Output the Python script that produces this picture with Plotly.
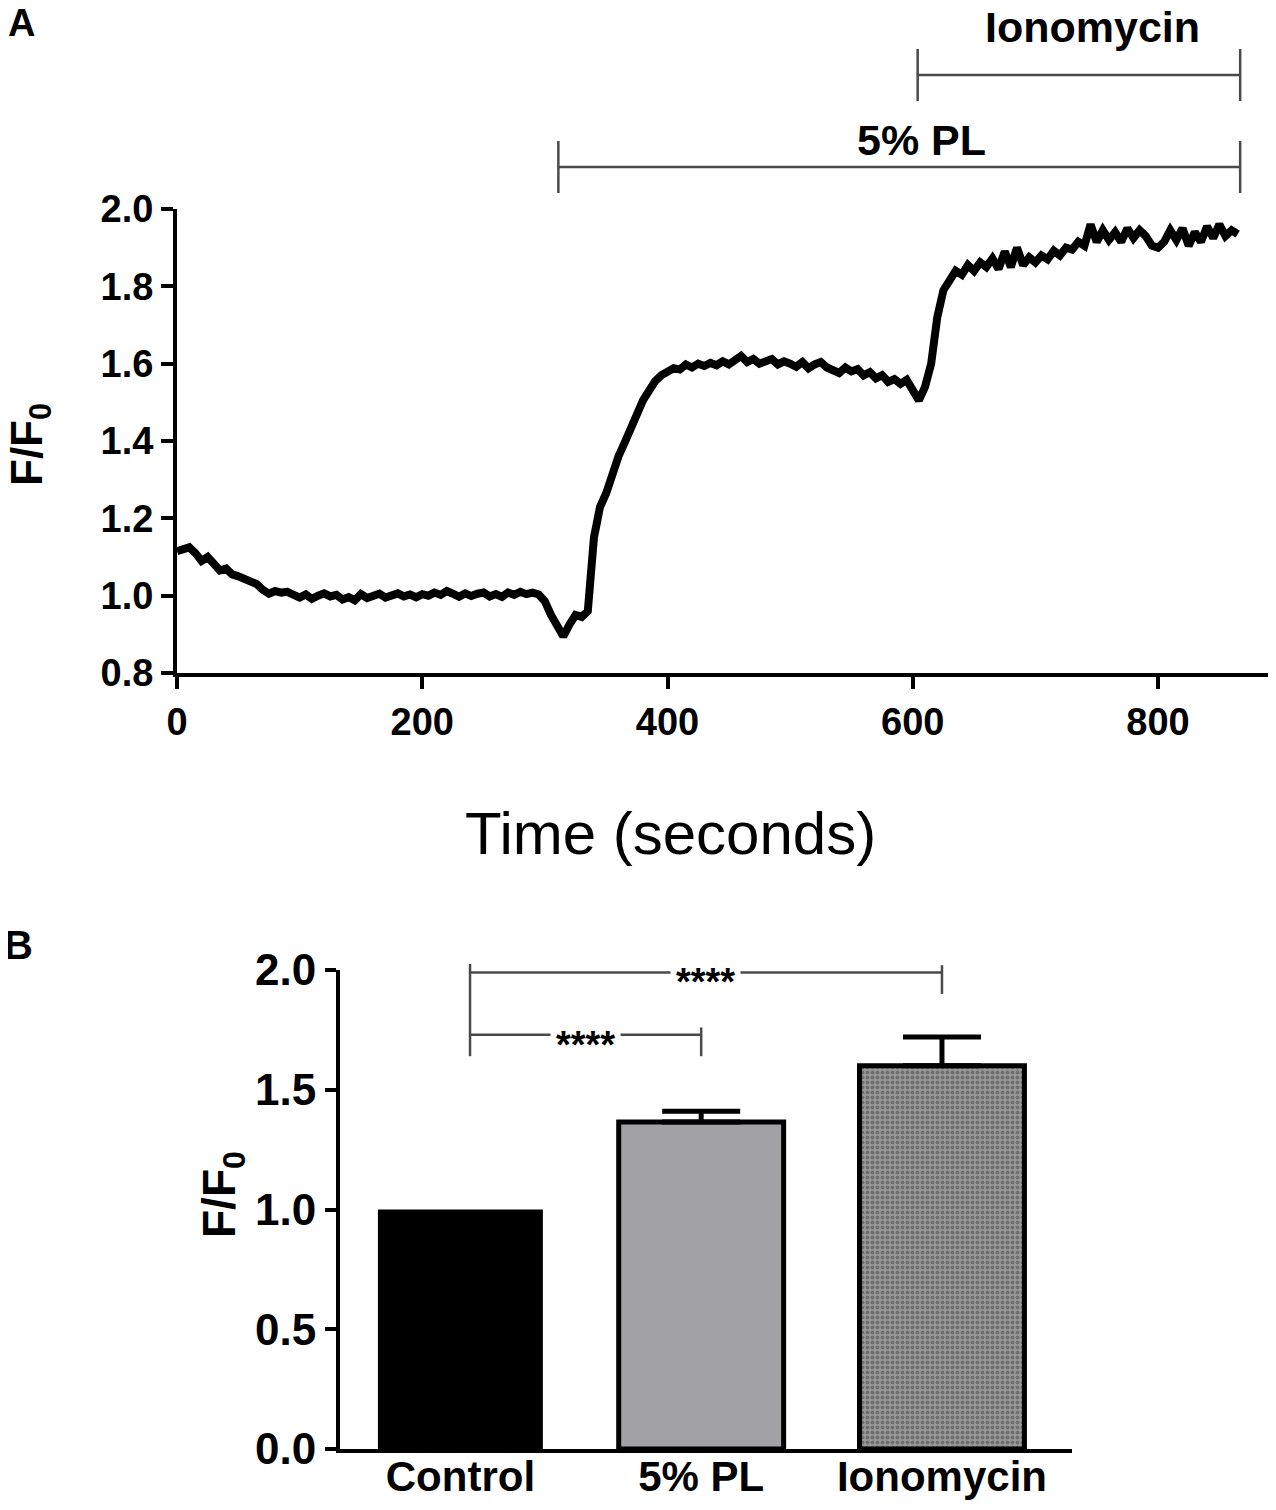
import plotly.graph_objs

# ---- panel A: calcium trace (F/F0 vs time, sampled every 5 s) ----
time_s = list(range(0, 870, 5))
ratio = [
    1.115, 1.120, 1.125, 1.110, 1.090, 1.100, 1.080, 1.065, 1.070, 1.055,
    1.050, 1.045, 1.035, 1.030, 1.015, 1.005, 1.012, 1.008, 1.010, 1.000,
    0.995, 1.003, 0.992, 1.000, 1.006, 0.998, 1.002, 0.990, 0.996, 0.988,
    1.004, 0.994, 0.999, 1.005, 0.995, 1.001, 1.006, 0.998, 1.003, 0.996,
    1.004, 1.000, 1.008, 1.002, 1.012, 1.005, 0.997, 1.006, 0.999, 1.005,
    1.008, 0.998, 1.004, 0.997, 1.008, 1.002, 1.010, 1.004, 1.008, 1.003,
    0.985, 0.950, 0.920, 0.895, 0.925, 0.950, 0.945, 0.960, 1.150, 1.230,
    1.265, 1.320, 1.360, 1.395, 1.430, 1.475, 1.505, 1.530, 1.555, 1.570,
    1.580, 1.588, 1.585, 1.598, 1.590, 1.600, 1.594, 1.602, 1.596, 1.606,
    1.598, 1.610, 1.620, 1.604, 1.612, 1.600, 1.608, 1.612, 1.598, 1.606,
    1.600, 1.592, 1.604, 1.588, 1.598, 1.604, 1.590, 1.584, 1.576, 1.590,
    1.580, 1.586, 1.570, 1.578, 1.562, 1.570, 1.553, 1.560, 1.548, 1.558,
    1.530, 1.505, 1.540, 1.600, 1.720, 1.790, 1.815, 1.840, 1.830, 1.855,
    1.840, 1.862, 1.850, 1.872, 1.845, 1.890, 1.850, 1.900, 1.855, 1.875,
    1.862, 1.880, 1.870, 1.892, 1.880, 1.900, 1.895, 1.915, 1.905, 1.960,
    1.915, 1.945, 1.920, 1.940, 1.915, 1.950, 1.925, 1.945, 1.930, 1.905,
    1.900, 1.915, 1.945, 1.920, 1.950, 1.905, 1.940, 1.915, 1.955, 1.925,
    1.960, 1.930, 1.945, 1.935,
]
x_ticks_a = [0, 200, 400, 600, 800]
y_ticks_a = [0.8, 1.0, 1.2, 1.4, 1.6, 1.8, 2.0]
# treatment periods (start, end, label)
treatments = [(311, 867, "5% PL"), (604, 867, "Ionomycin")]

# ---- panel B: mean F/F0 per condition ----
conditions = ["Control", "5% PL", "Ionomycin"]
means = [1.0, 1.365, 1.60]
sem = [0.0, 0.045, 0.12]
y_ticks_b = [0.0, 0.5, 1.0, 1.5, 2.0]
# comparisons (group a, group b, bracket height)
comparisons = [(0, 1, 1.73, "****"), (0, 2, 1.99, "****")]

# page has an 8 px body margin, so the figure is drawn a little smaller
OFF = 8
W, H = 1276 - 2 * OFF, 1510 - 2 * OFF
FONT = "Liberation Sans, Arial, sans-serif"


def px(x):
    return min(1.0, max(0.0, (x - OFF) / W))


def py(y):
    return min(1.0, max(0.0, 1 - (y - OFF) / H))


xr_a, yr_a = [0, 889.7], [0.8, 2.0]
xd_a, yd_a = [px(177), px(1268)], [py(673), py(209)]
xr_b, yr_b = [-0.5, 2.54], [0, 2.0]
xd_b, yd_b = [px(340), px(1072)], [py(1449), py(970)]


def to_paper(v, rng, dom):
    return dom[0] + (v - rng[0]) / (rng[1] - rng[0]) * (dom[1] - dom[0])


def line(x0, y0, x1, y1, color="#4a4a4a", width=2.5):
    return dict(type="line", xref="paper", yref="paper", x0=x0, y0=y0, x1=x1, y1=y1,
                line=dict(color=color, width=width))


def text(x, y, s, size, bold=True, **kw):
    font = dict(family=FONT, size=size, color="black")
    if bold:
        font["weight"] = "bold"
    return dict(x=x, y=y, text=s, xref="paper", yref="paper", showarrow=False,
                xanchor="center", yanchor="middle", font=font, **kw)


fig = plotly.graph_objs.Figure()
fig.add_trace(
    plotly.graph_objs.Scatter(
        x=time_s, y=ratio, mode="lines", line=dict(color="black", width=8),
        xaxis="x", yaxis="y", showlegend=False,
    )
)
fig.add_trace(
    plotly.graph_objs.Bar(
        x=[0, 1, 2], y=means, width=0.685, xaxis="x2", yaxis="y2", showlegend=False,
        marker=dict(
            color=["black", "#a2a2a6", "#9a9a9a"],
            line=dict(color="black", width=[0, 5, 5]),
            pattern=dict(shape=["", "", "."], size=5, solidity=0.5,
                         fgcolor="#2a2a2a", fillmode="overlay"),
        ),
    )
)
fig.add_trace(
    plotly.graph_objs.Scatter(
        x=[1, 2], y=means[1:], mode="markers", marker=dict(size=1, color="rgba(0,0,0,0)"),
        xaxis="x2", yaxis="y2", showlegend=False,
        error_y=dict(type="data", symmetric=False, array=sem[1:], arrayminus=[0, 0],
                     color="black", thickness=5, width=39),
    )
)

axis_style = dict(showline=True, linecolor="black", linewidth=4, showgrid=False,
                  zeroline=False, ticks="outside", tickcolor="black", tickwidth=4,
                  ticklen=12, automargin=False)

fig.update_layout(
    width=W, height=H, margin=dict(l=0, r=0, t=0, b=0),
    paper_bgcolor="white", plot_bgcolor="white",
    xaxis=dict(axis_style, domain=xd_a, range=xr_a, anchor="y", tickvals=x_ticks_a,
               tickfont=dict(family=FONT, size=38, color="black", weight="bold")),
    yaxis=dict(axis_style, domain=yd_a, range=yr_a, anchor="x", tickvals=y_ticks_a,
               tickformat=".1f",
               tickfont=dict(family=FONT, size=38, color="black", weight="bold")),
    xaxis2=dict(axis_style, domain=xd_b, range=xr_b, anchor="y2", tickvals=[0, 1, 2],
                ticktext=conditions, ticks="", ticklen=0, ticklabelstandoff=-12,
                tickfont=dict(family=FONT, size=42, color="black", weight="bold")),
    yaxis2=dict(axis_style, domain=yd_b, range=yr_b, anchor="x2", tickvals=y_ticks_b,
                tickformat=".1f", ticklen=11,
                tickfont=dict(family=FONT, size=44, color="black", weight="bold")),
)

shapes = []
annotations = []

# treatment bars above panel A
bar_y = [py(167), py(75)]
for (t0, t1, label), yb in zip(treatments, bar_y):
    x0 = to_paper(t0, xr_a, xd_a)
    x1 = to_paper(t1, xr_a, xd_a)
    shapes.append(line(x0, yb, x1, yb))
    shapes.append(line(x0, yb + 26 / H, x0, yb - 26 / H))
    shapes.append(line(x1, yb + 26 / H, x1, yb - 26 / H))
annotations.append(text(px(921), py(140), "5% PL", 43))
annotations.append(text(px(1092), py(27), "Ionomycin", 43))

# significance brackets in panel B
left_x = to_paper(0.04, xr_b, xd_b)
shapes.append(line(left_x, to_paper(2.025, yr_b, yd_b), left_x, to_paper(1.64, yr_b, yd_b)))
for ga, gb, yv, stars in comparisons:
    xa = to_paper(ga + 0.04, xr_b, xd_b)
    xb = to_paper(gb, xr_b, xd_b)
    yp = to_paper(yv, yr_b, yd_b)
    shapes.append(line(xa, yp, xb, yp))
    shapes.append(line(xb, to_paper(yv + 0.03, yr_b, yd_b), xb, to_paper(yv - 0.09, yr_b, yd_b)))
    annotations.append(text((xa + xb) / 2, yp, stars, 38, yshift=-10,
                            bgcolor="white", borderpad=5))

# axis titles and panel letters
annotations += [
    text(px(670), py(833), "Time (seconds)", 60, bold=False),
    text(px(30), py(445), "F/F<sub>0</sub>", 44, textangle=-90),
    text(px(222), py(1195), "F/F<sub>0</sub>", 46, textangle=-90),
    text(px(21), py(23), "A", 38),
    text(px(18), py(945), "B", 40),
]

fig.update_layout(shapes=shapes, annotations=annotations)
fig.write_html("out.html")
